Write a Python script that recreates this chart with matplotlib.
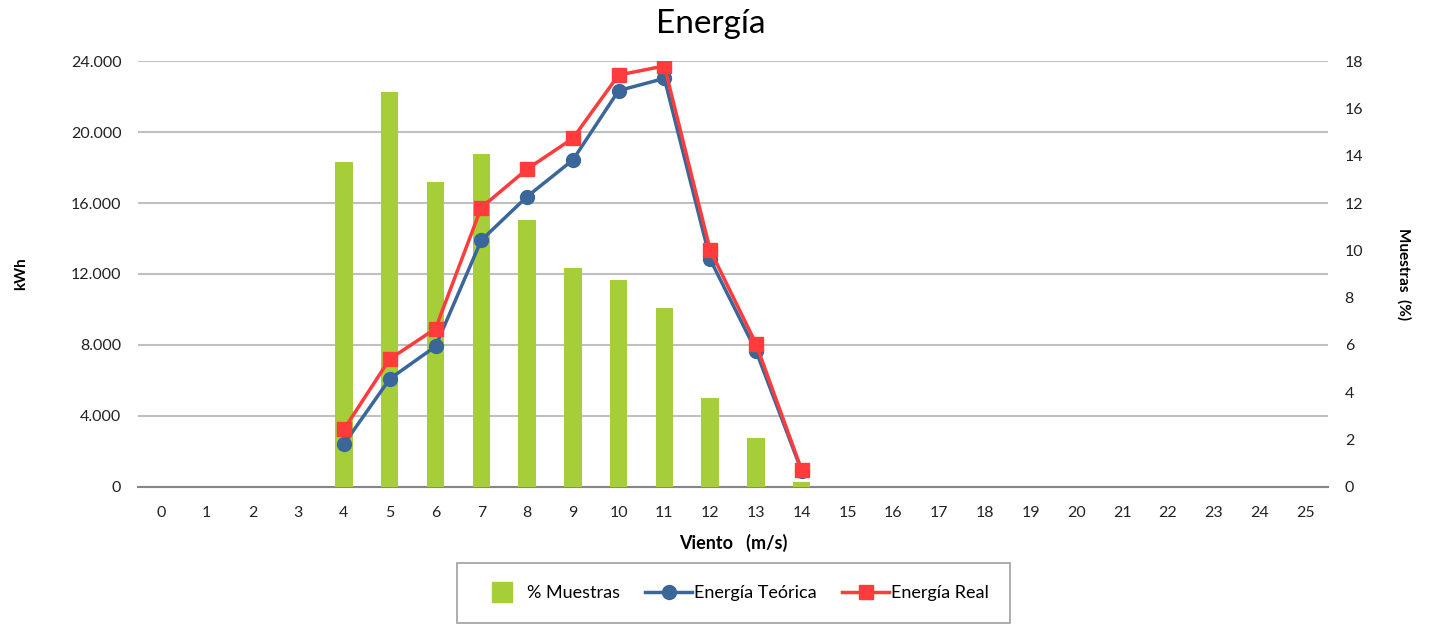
import matplotlib

matplotlib.use("Agg")
import matplotlib.pyplot as plt
from matplotlib.lines import Line2D
from matplotlib.ticker import FuncFormatter

plt.rcParams["font.family"] = ["Lato", "DejaVu Sans"]

# Wind speed categories (m/s)
viento = list(range(26))

# % of samples per wind speed (right axis)
muestras_x = [4, 5, 6, 7, 8, 9, 10, 11, 12, 13, 14]
muestras = [13.73, 16.69, 12.89, 14.07, 11.28, 9.25, 8.75, 7.56, 3.76, 2.07, 0.21]

# Energy (kWh) per wind speed (left axis)
energia_x = [4, 5, 6, 7, 8, 9, 10, 11, 12, 13, 14]
energia_teorica = [2420, 6090, 7920, 13900, 16360, 18420, 22330, 23020, 12830, 7680, 900]
energia_real = [3250, 7210, 8920, 15740, 17910, 19640, 23210, 23720, 13350, 8080, 960]

green = "#A6CE39"
blue = "#3A6699"
red = "#FF3B3B"

fig = plt.figure(figsize=(14.3, 6.27), dpi=100)
ax = fig.add_axes([0.0965, 0.2233, 0.8322, 0.6794])

# Left axis: grid + ticks
ax.set_xlim(-0.5, 25.5)
ax.set_ylim(0, 24000)
ax.set_yticks(range(0, 24001, 4000))
ax.yaxis.set_major_formatter(FuncFormatter(lambda v, p: f"{int(v):,}".replace(",", ".")))
ax.set_xticks(viento)
ax.set_xticklabels([str(v) for v in viento])
ax.grid(axis="y", color="#C0C0C0", linewidth=1.5)
ax.set_axisbelow(True)
for s in ["top", "left", "right"]:
    ax.spines[s].set_visible(False)
ax.spines["bottom"].set_color("#868686")
ax.spines["bottom"].set_linewidth(1.5)
ax.tick_params(axis="both", length=0, labelsize=11.5, colors="#222222")
ax.tick_params(axis="x", pad=14)
ax.tick_params(axis="y", pad=12)
ax.set_ylabel("kWh", fontsize=11, fontweight="bold", labelpad=31)
ax.set_xlabel("Viento   (m/s)", fontsize=13, fontweight="bold", labelpad=10)

# Right axis: bars
ax2 = ax.twinx()
ax2.set_ylim(0, 18)
ax2.set_yticks(range(0, 19, 2))
ax2.bar(muestras_x, muestras, width=0.38, color=green)
for s in ["top", "left", "right", "bottom"]:
    ax2.spines[s].set_visible(False)
ax2.tick_params(axis="y", length=0, labelsize=11.5, colors="#222222", pad=12)
ax2.set_ylabel("Muestras  (%)", fontsize=11, fontweight="bold", rotation=-90, labelpad=34)

# Lines on top of bars, sharing left scale
ax3 = ax.twinx()
ax3.set_ylim(ax.get_ylim())
ax3.set_axis_off()
l1, = ax3.plot(energia_x, energia_teorica, color=blue, linewidth=2.5, marker="o",
               markersize=10, label="Energía Teórica")
l2, = ax3.plot(energia_x, energia_real, color=red, linewidth=2.5, marker="s",
               markersize=10, label="Energía Real")

fig.suptitle("Energía", fontsize=24, x=0.497, y=0.985)

bar_handle = Line2D([], [], linestyle="none", marker="s", markersize=15,
                    color=green, label="% Muestras")
leg = fig.legend(handles=[bar_handle, l1, l2], loc="center", bbox_to_anchor=(0.513, 0.054),
                 ncol=3, fontsize=13, frameon=True, fancybox=False,
                 edgecolor="#888888", borderpad=1.2, handlelength=2.6,
                 columnspacing=1.4, handletextpad=0.1, borderaxespad=0)
leg.get_frame().set_linewidth(1.2)

fig.savefig("out.png", dpi=100)
